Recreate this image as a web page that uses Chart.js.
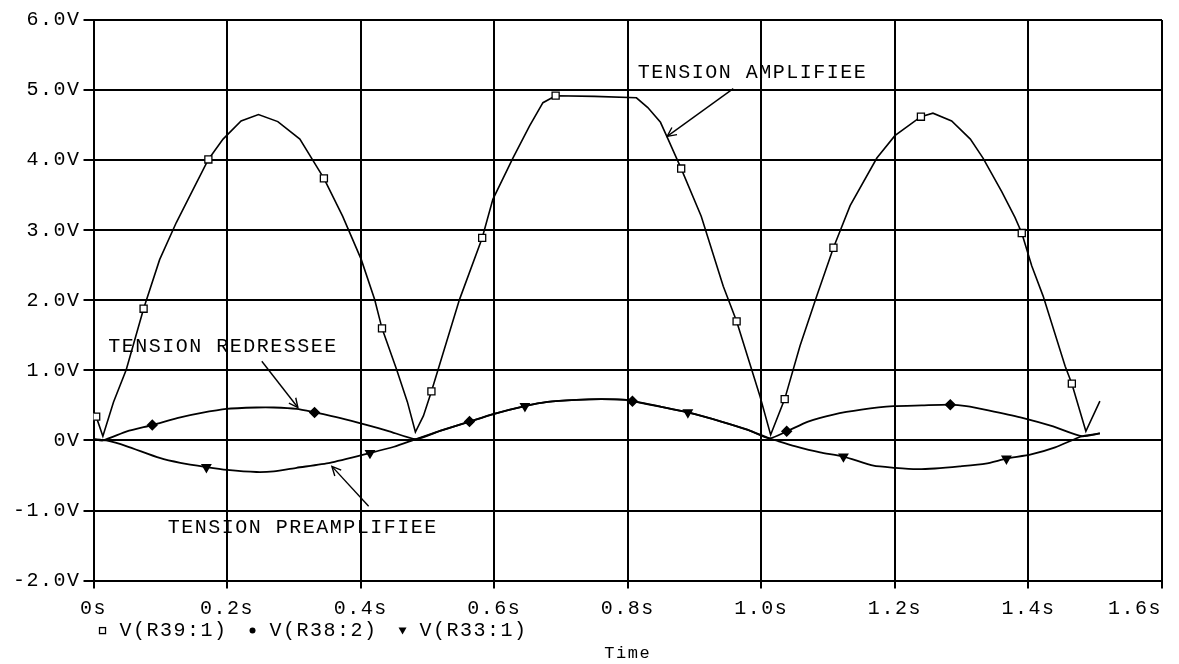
<!DOCTYPE html>
<html>
<head>
<meta charset="utf-8">
<style>
  html, body { margin: 0; padding: 0; background: #fff; }
  canvas { display: block; }
</style>
</head>
<body>
<canvas id="myChart" width="1179" height="664"></canvas>
<script src="https://cdn.jsdelivr.net/npm/chart.js@4.4.0/dist/chart.umd.min.js"></script>
<script>
    // V(R39:1) - tension amplifiee
    const ampT = [0.000, 0.004, 0.014, 0.030, 0.049, 0.075, 0.099, 0.124, 0.149, 0.172, 0.194, 0.221, 0.247, 0.276, 0.309, 0.329, 0.345, 0.373, 0.401, 0.421, 0.432, 0.454, 0.470, 0.482, 0.494, 0.506, 0.548, 0.582, 0.598, 0.628, 0.653, 0.673, 0.692, 0.750, 0.813, 0.830, 0.849, 0.858, 0.880, 0.910, 0.943, 0.963, 0.998, 1.014, 1.035, 1.058, 1.083, 1.108, 1.133, 1.173, 1.200, 1.239, 1.257, 1.285, 1.313, 1.332, 1.360, 1.380, 1.390, 1.405, 1.422, 1.455, 1.465, 1.486, 1.507];
    const ampV = [0.42, 0.34, 0.06, 0.55, 1.01, 1.88, 2.58, 3.11, 3.58, 4.01, 4.30, 4.56, 4.65, 4.55, 4.30, 3.99, 3.74, 3.20, 2.58, 2.01, 1.60, 1.01, 0.55, 0.12, 0.35, 0.70, 2.01, 2.89, 3.44, 4.03, 4.49, 4.82, 4.92, 4.91, 4.89, 4.75, 4.54, 4.35, 3.88, 3.20, 2.20, 1.70, 0.63, 0.08, 0.59, 1.35, 2.06, 2.75, 3.35, 4.03, 4.35, 4.62, 4.67, 4.56, 4.30, 4.03, 3.55, 3.18, 2.96, 2.49, 2.06, 1.06, 0.81, 0.13, 0.56];
    const ampMarks = [0.004, 0.075, 0.172, 0.345, 0.432, 0.506, 0.582, 0.692, 0.880, 0.963, 1.035, 1.108, 1.239, 1.390, 1.465];

    // V(R38:2) - tension redressee
    const redT = [0.000, 0.014, 0.050, 0.088, 0.130, 0.160, 0.199, 0.244, 0.270, 0.304, 0.331, 0.370, 0.410, 0.443, 0.483, 0.520, 0.563, 0.600, 0.646, 0.680, 0.723, 0.760, 0.798, 0.807, 0.850, 0.890, 0.940, 0.980, 1.012, 1.038, 1.070, 1.108, 1.150, 1.198, 1.240, 1.283, 1.307, 1.340, 1.388, 1.437, 1.480, 1.507];
    const redV = [0.02, 0.00, 0.13, 0.22, 0.33, 0.39, 0.45, 0.47, 0.47, 0.45, 0.40, 0.32, 0.22, 0.13, 0.02, 0.14, 0.27, 0.38, 0.49, 0.55, 0.58, 0.59, 0.58, 0.56, 0.48, 0.40, 0.27, 0.15, 0.03, 0.13, 0.27, 0.37, 0.44, 0.49, 0.50, 0.51, 0.49, 0.43, 0.33, 0.20, 0.06, 0.10];
    const redMarks = [0.088, 0.331, 0.563, 0.807, 1.038, 1.283];

    // V(R33:1) - tension preamplifiee
    const preT = [0.000, 0.019, 0.049, 0.099, 0.130, 0.169, 0.200, 0.244, 0.270, 0.304, 0.354, 0.414, 0.450, 0.483, 0.520, 0.563, 0.600, 0.646, 0.680, 0.723, 0.760, 0.798, 0.850, 0.890, 0.940, 0.980, 1.012, 1.022, 1.050, 1.088, 1.123, 1.168, 1.200, 1.233, 1.260, 1.297, 1.336, 1.367, 1.404, 1.440, 1.480, 1.507];
    const preV = [0.02, 0.00, -0.08, -0.25, -0.32, -0.38, -0.42, -0.45, -0.44, -0.39, -0.32, -0.18, -0.09, 0.02, 0.14, 0.27, 0.38, 0.49, 0.55, 0.58, 0.59, 0.58, 0.48, 0.40, 0.27, 0.15, 0.03, 0.00, -0.08, -0.17, -0.23, -0.36, -0.39, -0.41, -0.40, -0.37, -0.33, -0.26, -0.20, -0.10, 0.06, 0.10];
    const preMarks = [0.169, 0.414, 0.646, 0.890, 1.123, 1.367];

    const xTicks = [0, 0.2, 0.4, 0.6, 0.8, 1.0, 1.2, 1.4, 1.6];
    const yTicks = [-2, -1, 0, 1, 2, 3, 4, 5, 6];
    const legendLabels = ['V(R39:1)', 'V(R38:2)', 'V(R33:1)'];

    // text notes with arrows (in data units)
    const notes = [
        { text: 'TENSION AMPLIFIEE', t: 0.815, v: 5.25, from: [0.958, 5.02], to: [0.859, 4.34] },
        { text: 'TENSION REDRESSEE', t: 0.022, v: 1.34, from: [0.252, 1.13], to: [0.306, 0.47] },
        { text: 'TENSION PREAMPLIFIEE', t: 0.111, v: -1.24, from: [0.412, -0.94], to: [0.357, -0.37] }
    ];

    const FONT = '"Liberation Mono", "DejaVu Sans Mono", monospace';
    const SPACING = '1.5px';

    Chart.defaults.font.family = FONT;
    Chart.defaults.font.size = 20;
    Chart.defaults.color = '#000';

    const pts = (ts, vs) => ts.map((t, i) => ({ x: t, y: vs[i] }));
    const markAt = (ts, marks, r) => (ctx) => marks.includes(ts[ctx.dataIndex]) ? r : 0;

    function arrowHead(ctx, x1, y1, x2, y2) {
        const a = Math.atan2(y2 - y1, x2 - x1);
        const len = 10;
        ctx.beginPath();
        ctx.moveTo(x2 - len * Math.cos(a - 0.45), y2 - len * Math.sin(a - 0.45));
        ctx.lineTo(x2, y2);
        ctx.lineTo(x2 - len * Math.cos(a + 0.45), y2 - len * Math.sin(a + 0.45));
        ctx.stroke();
    }

    const extras = {
        id: 'extras',
        beforeLayout(chart) {
            chart.ctx.letterSpacing = SPACING;
        },
        beforeDraw(chart) {
            chart.ctx.letterSpacing = SPACING;
            // first x label centred on its tick, last one kept inside
            const items = chart.scales.x.getLabelItems();
            if (items.length) items[0].options.textAlign = 'center';
        },
        afterDraw(chart) {
            const ctx = chart.ctx;
            const xs = chart.scales.x, ys = chart.scales.y;
            const area = chart.chartArea;
            ctx.save();
            ctx.letterSpacing = SPACING;
            ctx.fillStyle = '#000';
            ctx.strokeStyle = '#000';
            ctx.lineWidth = 1.4;
            ctx.font = '20px ' + FONT;
            ctx.textBaseline = 'middle';
            ctx.textAlign = 'left';

            notes.forEach(n => {
                ctx.fillText(n.text, xs.getPixelForValue(n.t), ys.getPixelForValue(n.v));
                const x1 = xs.getPixelForValue(n.from[0]), y1 = ys.getPixelForValue(n.from[1]);
                const x2 = xs.getPixelForValue(n.to[0]), y2 = ys.getPixelForValue(n.to[1]);
                ctx.beginPath();
                ctx.moveTo(x1, y1);
                ctx.lineTo(x2, y2);
                ctx.stroke();
                arrowHead(ctx, x1, y1, x2, y2);
            });

            // legend between the tick labels and the axis title
            const ly = area.bottom + 50;
            let lx = area.left + 26;
            legendLabels.forEach((label, i) => {
                const mx = lx - 17;
                ctx.lineWidth = 1.3;
                if (i === 0) {
                    ctx.fillStyle = '#fff';
                    ctx.fillRect(mx - 3, ly - 3, 6, 6);
                    ctx.strokeRect(mx - 3, ly - 3, 6, 6);
                } else if (i === 1) {
                    ctx.fillStyle = '#000';
                    ctx.beginPath();
                    ctx.arc(mx, ly, 3, 0, Math.PI * 2);
                    ctx.fill();
                } else {
                    ctx.fillStyle = '#000';
                    ctx.beginPath();
                    ctx.moveTo(mx - 4, ly - 3);
                    ctx.lineTo(mx + 4, ly - 3);
                    ctx.lineTo(mx, ly + 4);
                    ctx.closePath();
                    ctx.fill();
                }
                ctx.fillStyle = '#000';
                ctx.fillText(label, lx, ly);
                lx += ctx.measureText(label).width + 42;
            });
            ctx.restore();
        }
    };

    const ctx = document.getElementById('myChart').getContext('2d');
    const myChart = new Chart(ctx, {
        type: 'line',
        data: {
            datasets: [{
                label: legendLabels[0],
                data: pts(ampT, ampV),
                borderColor: '#000',
                borderWidth: 1.6,
                tension: 0,
                pointStyle: 'rect',
                pointRadius: markAt(ampT, ampMarks, 5),
                pointBackgroundColor: '#fff',
                pointBorderColor: '#000',
                pointBorderWidth: 1.3
            }, {
                label: legendLabels[1],
                data: pts(redT, redV),
                borderColor: '#000',
                borderWidth: 1.8,
                tension: 0.2,
                pointStyle: 'rectRot',
                pointRadius: markAt(redT, redMarks, 4.5),
                pointBackgroundColor: '#000',
                pointBorderColor: '#000'
            }, {
                label: legendLabels[2],
                data: pts(preT, preV),
                borderColor: '#000',
                borderWidth: 1.8,
                tension: 0.2,
                pointStyle: 'triangle',
                pointRotation: 180,
                pointRadius: markAt(preT, preMarks, 4.5),
                pointBackgroundColor: '#000',
                pointBorderColor: '#000'
            }]
        },
        options: {
            responsive: false,
            animation: false,
            layout: { padding: { left: 10, right: 17, top: 20, bottom: 0 } },
            plugins: {
                legend: { display: false },
                tooltip: { enabled: false }
            },
            scales: {
                x: {
                    type: 'linear',
                    min: 0,
                    max: 1.6,
                    afterBuildTicks: (s) => { s.ticks = xTicks.map(v => ({ value: v })); },
                    ticks: {
                        align: 'inner',
                        padding: 8,
                        maxRotation: 0,
                        callback: (v) => v === 0 ? '0s' : v.toFixed(1) + 's'
                    },
                    grid: { color: '#000', lineWidth: 2, tickLength: 8 },
                    border: { color: '#000', width: 2 },
                    title: {
                        display: true,
                        text: 'Time',
                        font: { size: 17 },
                        padding: { top: 15, bottom: 0 }
                    }
                },
                y: {
                    min: -2,
                    max: 6,
                    afterBuildTicks: (s) => { s.ticks = yTicks.map(v => ({ value: v })); },
                    ticks: {
                        padding: 3,
                        callback: (v) => v === 0 ? '0V' : v.toFixed(1) + 'V'
                    },
                    grid: { color: '#000', lineWidth: 2, tickLength: 10 },
                    border: { color: '#000', width: 2 }
                }
            }
        },
        plugins: [extras]
    });
</script>
</body>
</html>
